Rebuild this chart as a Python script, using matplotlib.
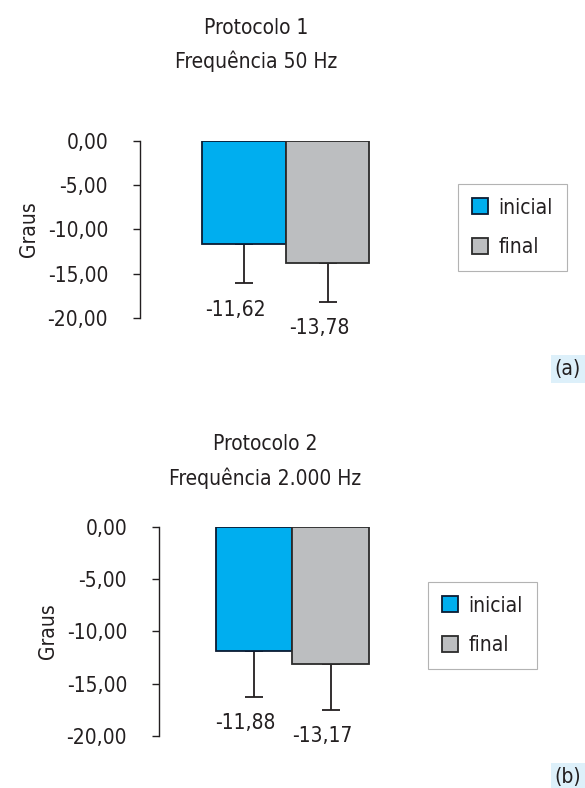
import matplotlib
matplotlib.use("Agg")
import matplotlib.pyplot as plt
from matplotlib.patches import Patch
from matplotlib.ticker import FuncFormatter

plt.rcParams['font.family'] = ['DejaVu Sans']
plt.rcParams['font.stretch'] = 'condensed'

# data
series = ["inicial", "final"]
colors = ["#00AEEF", "#BCBEC0"]
edges = ["#0B1B33", "#2B2B2B"]

p1_title = ["Protocolo 1", "Frequência 50 Hz"]
p1_means = [-11.62, -13.78]
p1_err = [4.44, 4.35]

p2_title = ["Protocolo 2", "Frequência 2.000 Hz"]
p2_means = [-11.88, -13.17]
p2_err = [4.37, 4.35]

yticks = [0, -5, -10, -15, -20]

INK = "#231F20"
W, H = 585, 788


def px_axes(fig, left, top, width, height):
    # axes from pixel box
    return fig.add_axes([left / W, 1 - (top + height) / H, width / W, height / H])


def comma(v, pos=None):
    return f"{v:.2f}".replace(".", ",")


def draw_panel(fig, ax, means, err, title, title_pad, legend_box, tag, tag_xy):
    x = [0, 1]
    ax.bar(x, means, width=1.0, color=colors, edgecolor=edges, linewidth=1.3, zorder=2)
    lower = [m - e for m, e in zip(means, err)]
    ax.errorbar(x, means, yerr=[err, [0, 0]], fmt="none", ecolor=INK,
                elinewidth=1.3, capsize=6.5, capthick=1.3, zorder=1)
    for xi, m, lo in zip(x, means, lower):
        ax.annotate(comma(m), (xi, lo), xytext=(-6, -19), textcoords="offset points",
                    ha="center", va="center", fontsize=15, color=INK,
                    annotation_clip=False)

    ax.set_ylim(-20, 0)
    ax.set_xlim(-1.245, 1.53)
    ax.set_yticks(yticks)
    ax.yaxis.set_major_formatter(FuncFormatter(comma))
    ax.set_xticks([])
    for s in ["top", "right", "bottom"]:
        ax.spines[s].set_visible(False)
    ax.spines["left"].set_color(INK)
    ax.spines["left"].set_linewidth(1.0)
    ax.tick_params(axis="y", length=5, width=1.0, color=INK, labelcolor=INK,
                   labelsize=15, pad=18)
    ax.set_ylabel("Graus", fontsize=15, color=INK, labelpad=6)
    ax.set_title("\n".join(title), fontsize=15, color=INK, linespacing=1.75, pad=title_pad)

    handles = [Patch(facecolor=c, edgecolor=e, linewidth=1.3) for c, e in zip(colors, edges)]
    leg = ax.legend(handles, series, loc="upper left",
                    bbox_to_anchor=(legend_box[0] / W, 1 - legend_box[1] / H),
                    bbox_transform=fig.transFigure, borderaxespad=0,
                    fontsize=15, frameon=True, fancybox=False,
                    handlelength=0.8, handleheight=0.8, handletextpad=0.5,
                    labelspacing=0.95, borderpad=0.65)
    leg.get_frame().set_edgecolor("#A0A0A0")
    leg.get_frame().set_linewidth(0.8)
    for t in leg.get_texts():
        t.set_color(INK)

    fig.text(tag_xy[0] / W, 1 - tag_xy[1] / H, tag, ha="center", va="center",
             fontsize=15, color=INK,
             bbox=dict(facecolor="#DDF0FA", edgecolor="none", pad=3))


fig = plt.figure(figsize=(W / 100, H / 100), dpi=100)
ax1 = px_axes(fig, 140, 140.7, 232, 177.6)
ax2 = px_axes(fig, 159, 526.7, 212, 209.2)

draw_panel(fig, ax1, p1_means, p1_err, p1_title, 52, (458, 184), "(a)", (568, 369))
draw_panel(fig, ax2, p2_means, p2_err, p2_title, 30, (428, 582), "(b)", (568, 777))

fig.savefig("out.png", dpi=100)
